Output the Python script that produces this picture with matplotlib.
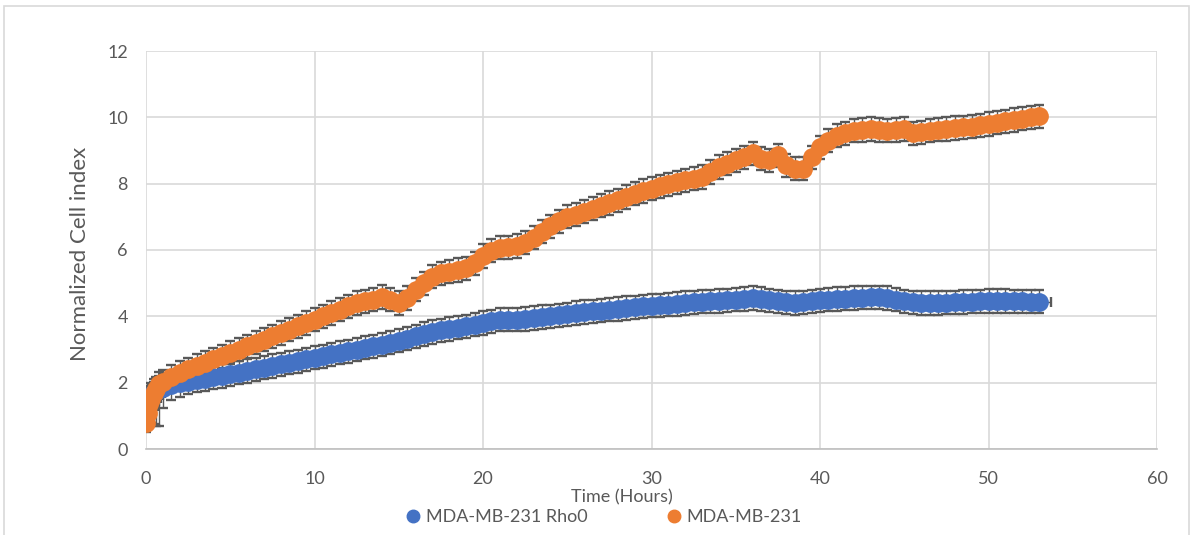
import numpy as np
import matplotlib
matplotlib.use("Agg")
import matplotlib.pyplot as plt
from matplotlib.lines import Line2D
from matplotlib.patches import Rectangle

plt.rcParams['font.family'] = ['Lato', 'DejaVu Sans']

# sampling times (hours): dense at the start, then every half hour
t_start = [0.0, 0.1, 0.2, 0.3, 0.45, 0.6, 0.8]
t_rest = np.arange(1.0, 53.5, 0.5)
time_h = np.concatenate([t_start, t_rest])

# MDA-MB-231 Rho0
rho0 = [1.30, 1.45, 1.55, 1.62, 1.70, 1.75, 1.80,
        1.85, 1.92, 1.98, 2.03, 2.08, 2.12, 2.16, 2.20, 2.25, 2.30,
        2.35, 2.40, 2.45, 2.50, 2.55, 2.60, 2.65, 2.70, 2.75, 2.80,
        2.85, 2.90, 2.95, 3.00, 3.05, 3.10, 3.15, 3.20, 3.27, 3.33,
        3.40, 3.47, 3.53, 3.58, 3.62, 3.66, 3.70, 3.75, 3.80, 3.85,
        3.90, 3.90, 3.90, 3.92, 3.95, 3.98, 4.00, 4.03, 4.06, 4.10,
        4.13, 4.15, 4.17, 4.20, 4.22, 4.25, 4.27, 4.30, 4.32, 4.33,
        4.35, 4.37, 4.40, 4.42, 4.44, 4.45, 4.46, 4.48, 4.50, 4.52,
        4.55, 4.52, 4.48, 4.45, 4.42, 4.40, 4.42, 4.45, 4.48, 4.50,
        4.52, 4.53, 4.55, 4.56, 4.57, 4.57, 4.55, 4.50, 4.45, 4.42,
        4.40, 4.40, 4.40, 4.41, 4.42, 4.43, 4.44, 4.45, 4.46, 4.46,
        4.46, 4.45, 4.45, 4.44, 4.44]
rho0_err_lo = [0.40, 0.55, 0.70, 0.85, 0.95, 1.05, 1.10,
               0.60, 0.45, 0.40, 0.38, 0.37, 0.36, 0.36, 0.35, 0.35, 0.35,
               0.35, 0.35, 0.35, 0.35, 0.35, 0.35, 0.35, 0.35, 0.35, 0.35,
               0.35, 0.35, 0.35, 0.35, 0.35, 0.35, 0.35, 0.35, 0.35, 0.35,
               0.35, 0.35, 0.35, 0.35, 0.35, 0.35, 0.35, 0.35, 0.35, 0.35,
               0.35, 0.35, 0.35, 0.35, 0.35, 0.35, 0.35, 0.35, 0.35, 0.35,
               0.35, 0.35, 0.35, 0.35, 0.35, 0.35, 0.35, 0.35, 0.35, 0.35,
               0.35, 0.35, 0.35, 0.35, 0.35, 0.35, 0.35, 0.35, 0.35, 0.35,
               0.35, 0.35, 0.35, 0.35, 0.35, 0.35, 0.35, 0.35, 0.35, 0.35,
               0.35, 0.35, 0.35, 0.35, 0.35, 0.35, 0.35, 0.35, 0.35, 0.35,
               0.35, 0.35, 0.35, 0.35, 0.35, 0.35, 0.35, 0.35, 0.35, 0.35,
               0.35, 0.35, 0.35, 0.35, 0.35]
rho0_err_hi = [0.32, 0.34, 0.36, 0.38, 0.40, 0.40, 0.40,
               0.40, 0.38, 0.37, 0.36, 0.36, 0.36, 0.35, 0.35, 0.35, 0.35,
               0.35, 0.35, 0.35, 0.35, 0.35, 0.35, 0.35, 0.35, 0.35, 0.35,
               0.35, 0.35, 0.35, 0.35, 0.35, 0.35, 0.35, 0.35, 0.35, 0.35,
               0.35, 0.35, 0.35, 0.35, 0.35, 0.35, 0.35, 0.35, 0.35, 0.35,
               0.35, 0.35, 0.35, 0.35, 0.35, 0.35, 0.35, 0.35, 0.35, 0.35,
               0.35, 0.35, 0.35, 0.35, 0.35, 0.35, 0.35, 0.35, 0.35, 0.35,
               0.35, 0.35, 0.35, 0.35, 0.35, 0.35, 0.35, 0.35, 0.35, 0.35,
               0.35, 0.35, 0.35, 0.35, 0.35, 0.35, 0.35, 0.35, 0.35, 0.35,
               0.35, 0.35, 0.35, 0.35, 0.35, 0.35, 0.35, 0.35, 0.35, 0.35,
               0.35, 0.35, 0.35, 0.35, 0.35, 0.35, 0.35, 0.35, 0.35, 0.35,
               0.35, 0.35, 0.35, 0.35, 0.35]

# MDA-MB-231
wt = [0.78, 1.10, 1.35, 1.50, 1.68, 1.82, 1.95,
      2.03, 2.18, 2.30, 2.40, 2.50, 2.60, 2.70, 2.80, 2.90, 3.00,
      3.10, 3.20, 3.30, 3.40, 3.50, 3.60, 3.70, 3.80, 3.90, 4.00,
      4.10, 4.20, 4.30, 4.40, 4.45, 4.50, 4.58, 4.50, 4.40, 4.55,
      4.80, 5.00, 5.20, 5.30, 5.35, 5.40, 5.45, 5.60, 5.82, 5.98,
      6.07, 6.08, 6.12, 6.22, 6.37, 6.55, 6.72, 6.87, 7.00, 7.07,
      7.15, 7.25, 7.33, 7.42, 7.50, 7.60, 7.70, 7.78, 7.85, 7.92,
      7.98, 8.04, 8.10, 8.15, 8.20, 8.35, 8.50, 8.60, 8.70, 8.80,
      8.92, 8.75, 8.70, 8.85, 8.55, 8.45, 8.45, 8.80, 9.10, 9.30,
      9.45, 9.52, 9.60, 9.62, 9.65, 9.62, 9.60, 9.62, 9.65, 9.52,
      9.55, 9.60, 9.63, 9.65, 9.68, 9.70, 9.72, 9.76, 9.80, 9.84,
      9.88, 9.92, 9.96, 10.00, 10.03]
wt_err = [0.28, 0.30, 0.32, 0.34, 0.35, 0.36, 0.36,
          0.36, 0.36, 0.35, 0.35, 0.35, 0.35, 0.35, 0.35, 0.35, 0.35,
          0.35, 0.35, 0.35, 0.35, 0.35, 0.35, 0.35, 0.35, 0.35, 0.35,
          0.35, 0.35, 0.35, 0.35, 0.35, 0.35, 0.35, 0.35, 0.35, 0.35,
          0.35, 0.35, 0.35, 0.35, 0.35, 0.35, 0.35, 0.35, 0.35, 0.35,
          0.35, 0.35, 0.35, 0.35, 0.35, 0.35, 0.35, 0.35, 0.35, 0.35,
          0.35, 0.35, 0.35, 0.35, 0.35, 0.35, 0.35, 0.35, 0.35, 0.35,
          0.35, 0.35, 0.35, 0.35, 0.35, 0.35, 0.35, 0.35, 0.35, 0.35,
          0.35, 0.35, 0.35, 0.35, 0.35, 0.35, 0.35, 0.35, 0.35, 0.35,
          0.35, 0.35, 0.35, 0.35, 0.35, 0.35, 0.35, 0.35, 0.35, 0.35,
          0.35, 0.35, 0.35, 0.35, 0.35, 0.35, 0.35, 0.35, 0.35, 0.35,
          0.35, 0.35, 0.35, 0.35, 0.35]
rho0_xerr = 0.7

labels = ["MDA-MB-231 Rho0", "MDA-MB-231"]
colors = ["#4472C4", "#ED7D31"]
err_color = "#595959"
grid_color = "#D9D9D9"
text_color = "#595959"

fig = plt.figure(figsize=(11.9, 5.35), dpi=100)
ax = fig.add_axes([146/1190, 1-449/535, (1157-146)/1190, (449-51)/535])

# error bars behind all markers
ax.errorbar(time_h, rho0, yerr=[rho0_err_lo, rho0_err_hi], xerr=rho0_xerr,
            fmt='none', ecolor=err_color, elinewidth=1.0, capsize=3.8,
            capthick=1.7, zorder=2)
ax.errorbar(time_h, wt, yerr=wt_err, fmt='none', ecolor=err_color,
            elinewidth=1.0, capsize=3.8, capthick=1.7, zorder=2)
ax.plot(time_h, rho0, 'o', color=colors[0], markersize=13.5, mew=0, zorder=3)
ax.plot(time_h, wt, 'o', color=colors[1], markersize=13.5, mew=0, zorder=4)

ax.set_xlim(0, 60)
ax.set_ylim(0, 12)
ax.set_xticks(range(0, 61, 10))
ax.set_yticks(range(0, 13, 2))
ax.grid(True, color=grid_color, linewidth=1.2, zorder=0)
ax.set_axisbelow(True)
for s in ['top', 'right', 'left']:
    ax.spines[s].set_visible(False)
ax.spines['bottom'].set_color('#BFBFBF')
ax.spines['bottom'].set_linewidth(1.2)
ax.tick_params(axis='both', length=0, labelsize=13, labelcolor=text_color)
ax.tick_params(axis='y', pad=13)
ax.tick_params(axis='x', pad=16)

fig.text(80/1190, 1-254/535, "Normalized Cell index", rotation=90,
         ha='center', va='center', fontsize=16, color=text_color)
fig.text(622/1190, 1-497/535, "Time (Hours)", ha='center', va='center',
         fontsize=13, color=text_color)

handles = [Line2D([], [], marker='o', linestyle='none', color=c, markersize=9)
           for c in colors]
fig.legend(handles, labels, loc='center', bbox_to_anchor=(603/1190, 1-517/535),
           ncol=2, frameon=False, fontsize=13, handletextpad=0.2,
           columnspacing=4.3, handlelength=1.0, labelcolor=text_color)

# light outline around the chart area
fig.patches.append(Rectangle((4/1190, -0.05), 1185/1190, 1.05 - 6/535,
                             transform=fig.transFigure, fill=False,
                             edgecolor=grid_color, linewidth=1.2))

fig.savefig("out.png", dpi=100)
